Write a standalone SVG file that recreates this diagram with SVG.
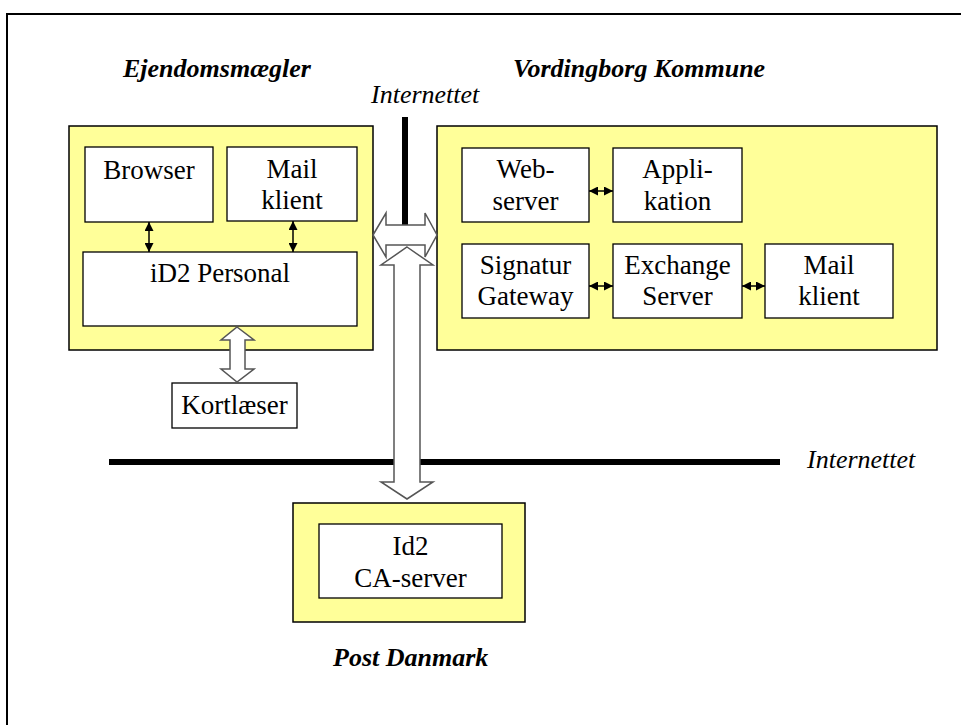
<svg xmlns="http://www.w3.org/2000/svg" width="961" height="725" viewBox="0 0 961 725">
<defs>
<style>
.frame{fill:none;stroke:#000;stroke-width:2}
.yel{fill:#FFFF99;stroke:#000;stroke-width:1.5}
.box{fill:#fff;stroke:#000;stroke-width:1.3}
.t{font-family:"Liberation Serif","Times New Roman",serif;font-size:27px;fill:#000;text-anchor:middle}
.h{font-family:"Liberation Serif","Times New Roman",serif;font-size:26px;font-weight:bold;font-style:italic;fill:#000}
.net{font-family:"Liberation Serif","Times New Roman",serif;font-size:26px;font-style:italic;fill:#000}
.blk{fill:#fff;stroke:#555;stroke-width:1.5;stroke-linejoin:miter}
.thin{stroke:#000;stroke-width:1.5;fill:none;marker-start:url(#ah);marker-end:url(#ah)}
</style>
<marker id="ah" markerUnits="userSpaceOnUse" markerWidth="9" markerHeight="9" refX="9" refY="4.5" orient="auto-start-reverse">
<path d="M0,0 L9,4.5 L0,9 z" fill="#000"/>
</marker>
</defs>
<rect class="frame" x="7" y="14" width="1000" height="800"/>

<g id="ejendomsmaegler">
<rect class="yel" x="69" y="126" width="304" height="224"/>
<text class="h" x="123" y="77">Ejendomsmægler</text>
</g>
<g id="browser"><rect class="box" x="85" y="147" width="128" height="75"/><text class="t" x="149" y="179">Browser</text></g>
<g id="mailklient1"><rect class="box" x="227" y="147" width="130" height="74"/><text class="t" x="292" y="178">Mail</text><text class="t" x="292" y="209">klient</text></g>
<g id="id2personal"><rect class="box" x="83" y="252" width="274" height="74"/><text class="t" x="220" y="282">iD2 Personal</text></g>
<g id="kortlaeser"><rect class="box" x="172" y="383" width="125" height="45"/><text class="t" x="234.5" y="414">Kortlæser</text></g>

<g id="vordingborg">
<rect class="yel" x="437" y="126" width="500" height="224"/>
<text class="h" x="513" y="77">Vordingborg Kommune</text>
</g>
<g id="webserver"><rect class="box" x="462" y="148" width="127" height="74"/><text class="t" x="525.5" y="178">Web-</text><text class="t" x="525.5" y="210">server</text></g>
<g id="applikation"><rect class="box" x="613" y="148" width="129" height="74"/><text class="t" x="677.5" y="178">Appli-</text><text class="t" x="677.5" y="210">kation</text></g>
<g id="signatur"><rect class="box" x="462" y="244" width="127" height="74"/><text class="t" x="525.5" y="274">Signatur</text><text class="t" x="525.5" y="305">Gateway</text></g>
<g id="exchange"><rect class="box" x="613" y="244" width="129" height="74"/><text class="t" x="677.5" y="274">Exchange</text><text class="t" x="677.5" y="305">Server</text></g>
<g id="mailklient2"><rect class="box" x="765" y="244" width="128" height="74"/><text class="t" x="829" y="274">Mail</text><text class="t" x="829" y="305">klient</text></g>

<g id="postdanmark">
<rect class="yel" x="293" y="503" width="232" height="119"/>
<text class="h" x="333" y="666">Post Danmark</text>
</g>
<g id="ca-server"><rect class="box" x="319" y="524" width="183" height="74"/><text class="t" x="410.5" y="555">Id2</text><text class="t" x="410.5" y="587">CA-server</text></g>

<g id="internet">
<rect x="402" y="117" width="6" height="110" fill="#000"/>
<rect x="109" y="459" width="671" height="6" fill="#000"/>
<text class="net" x="371" y="103">Internettet</text>
<text class="net" x="807" y="468">Internettet</text>
</g>

<g id="connectors">
<line class="thin" x1="149" y1="222" x2="149" y2="252"/>
<line class="thin" x1="293" y1="221" x2="293" y2="252"/>
<line class="thin" x1="589" y1="191" x2="613" y2="191"/>
<line class="thin" x1="589" y1="286" x2="613" y2="286"/>
<line class="thin" x1="742" y1="286" x2="765" y2="286"/>
<polygon class="blk" points="237,327 254,340 245,340 245,369 254,369 237,382 221,369 230,369 230,340 221,340"/>
<polygon class="blk" points="373,235 386,213 386,225 425,225 425,213 437,235 425,257 425,245 386,245 386,257"/>
<polygon class="blk" points="407,247 433,265 420,265 420,482 433,482 407,499 381,482 394,482 394,265 381,265"/>
</g>
</svg>
